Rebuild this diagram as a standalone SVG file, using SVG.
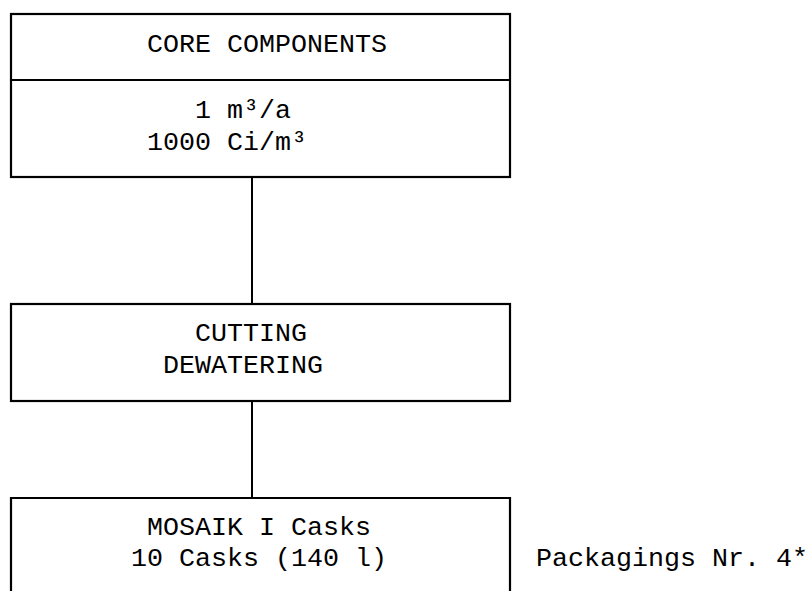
<svg xmlns="http://www.w3.org/2000/svg" width="808" height="591" viewBox="0 0 808 591">
<style>
.box{fill:none;stroke:#000;stroke-width:2.2}
.con{fill:none;stroke:#000;stroke-width:2}
text{font-family:"Liberation Mono","Courier New",monospace;font-size:26.67px;fill:#000}
</style>
<rect width="808" height="591" fill="#fff"/>
<g id="connectors">
<line class="con" x1="252" y1="177" x2="252" y2="304"/>
<line class="con" x1="252" y1="401" x2="252" y2="498"/>
</g>
<g id="core">
<rect class="box" x="11" y="14" width="499" height="163"/>
<line class="box" x1="11" y1="80" x2="510" y2="80"/>
<text x="147" y="52">CORE COMPONENTS</text>
<text x="195" y="118">1 m³/a</text>
<text x="147" y="150">1000 Ci/m³</text>
</g>
<g id="cutting">
<rect class="box" x="11" y="304" width="499" height="97"/>
<text x="195" y="341">CUTTING</text>
<text x="163" y="373">DEWATERING</text>
</g>
<g id="mosaik">
<path class="box" d="M11,600 V498 H510 V600"/>
<text x="147" y="535">MOSAIK I Casks</text>
<text x="131" y="566">10 Casks (140 l)</text>
</g>
<g id="packagings">
<text x="536" y="566">Packagings Nr. 4*</text>
</g>
</svg>
